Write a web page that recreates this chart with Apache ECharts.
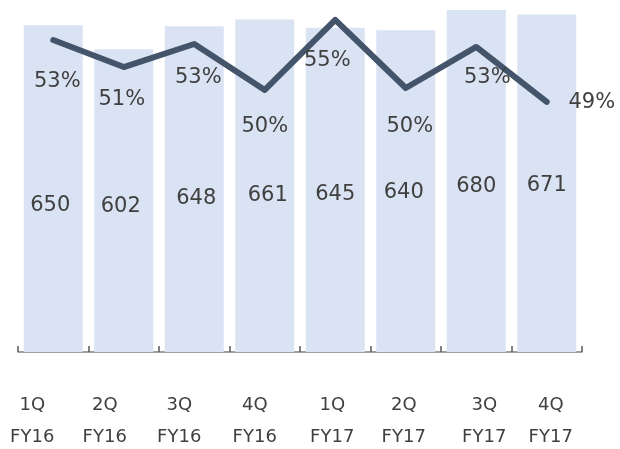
<!DOCTYPE html>
<html>
<head>
<meta charset="utf-8">
<script src="https://cdn.jsdelivr.net/npm/echarts@6/dist/echarts.min.js"></script>
<style>
  html, body { margin: 0; padding: 0; background: #ffffff; }
  #chart { width: 620px; height: 449px; }
</style>
</head>
<body>
<div id="chart"></div>
<script>
// Quarterly figures
const quarters = ['1Q', '2Q', '3Q', '4Q', '1Q', '2Q', '3Q', '4Q'];
const fiscalYears = ['FY16', 'FY16', 'FY16', 'FY16', 'FY17', 'FY17', 'FY17', 'FY17'];
const revenue = [650, 602, 648, 661, 645, 640, 680, 671];
const marginPct = [53.27, 51.43, 53.0, 49.87, 54.64, 50.0, 52.8, 49.05];

// Label placement tweaks (pixels)
const barLabelRise = [136, 135, 143, 146, 147, 149, 155, 156];
const barLabelShift = [-3, -3, 2, 3, 0, -2, 0, 0];
const pctLabelOffset = [[4, 42], [-2, 33], [4, 34], [0, 37], [-8, 41], [4, 39], [11, 31], [45, 1]];
const axisLabelShift = [-21, -19, -15, -10, -3, -2, 8, 4];

const FONT = '"DejaVu Sans", Verdana, sans-serif';
const TEXT = '#404040';

const categories = quarters.map((q, i) => q + '\n' + fiscalYears[i]);

const rich = {};
axisLabelShift.forEach((dx, i) => {
  rich['c' + i] = {
    fontFamily: FONT,
    fontSize: 18,
    color: TEXT,
    align: 'center',
    lineHeight: 32,
    padding: dx < 0 ? [0, -2 * dx, 0, 0] : [0, 0, 0, 2 * dx]
  };
});

const chart = echarts.init(document.getElementById('chart'), null, { renderer: 'canvas' });

chart.setOption({
  animation: false,
  backgroundColor: '#ffffff',
  grid: { left: 18, right: 38, top: 0, bottom: 97, containLabel: false },
  xAxis: {
    type: 'category',
    data: categories,
    boundaryGap: true,
    axisLine: { show: true, lineStyle: { color: '#7f7f7f', width: 1.5 } },
    axisTick: { show: true, inside: true, length: 6, lineStyle: { color: '#595959', width: 1.5 } },
    axisLabel: {
      interval: 0,
      margin: 37,
      formatter: (value, idx) => value.split('\n').map(s => '{c' + idx + '|' + s + '}').join('\n'),
      rich: rich
    },
    splitLine: { show: false }
  },
  yAxis: [
    { type: 'value', min: 0, max: 700, show: false, splitLine: { show: false } },
    { type: 'value', min: 32, max: 56, show: false, splitLine: { show: false } }
  ],
  series: [
    {
      type: 'bar',
      yAxisIndex: 0,
      barWidth: 59,
      itemStyle: { color: '#dae3f3' },
      data: revenue.map((v, i) => ({
        value: v,
        label: {
          show: true,
          position: 'insideBottom',
          distance: barLabelRise[i],
          offset: [barLabelShift[i], 0],
          fontFamily: FONT,
          fontSize: 21,
          color: TEXT
        }
      })),
      z: 1
    },
    {
      type: 'line',
      yAxisIndex: 1,
      symbol: 'circle',
      symbolSize: 2,
      showSymbol: true,
      itemStyle: { color: '#44546a' },
      lineStyle: { color: '#44546a', width: 6, cap: 'round', join: 'round' },
      data: marginPct.map((v, i) => ({
        value: v,
        label: {
          show: true,
          position: 'inside',
          offset: pctLabelOffset[i],
          formatter: p => Math.round(p.value) + '%',
          fontFamily: FONT,
          fontSize: 21,
          color: TEXT
        }
      })),
      z: 3
    }
  ]
});
</script>
</body>
</html>
